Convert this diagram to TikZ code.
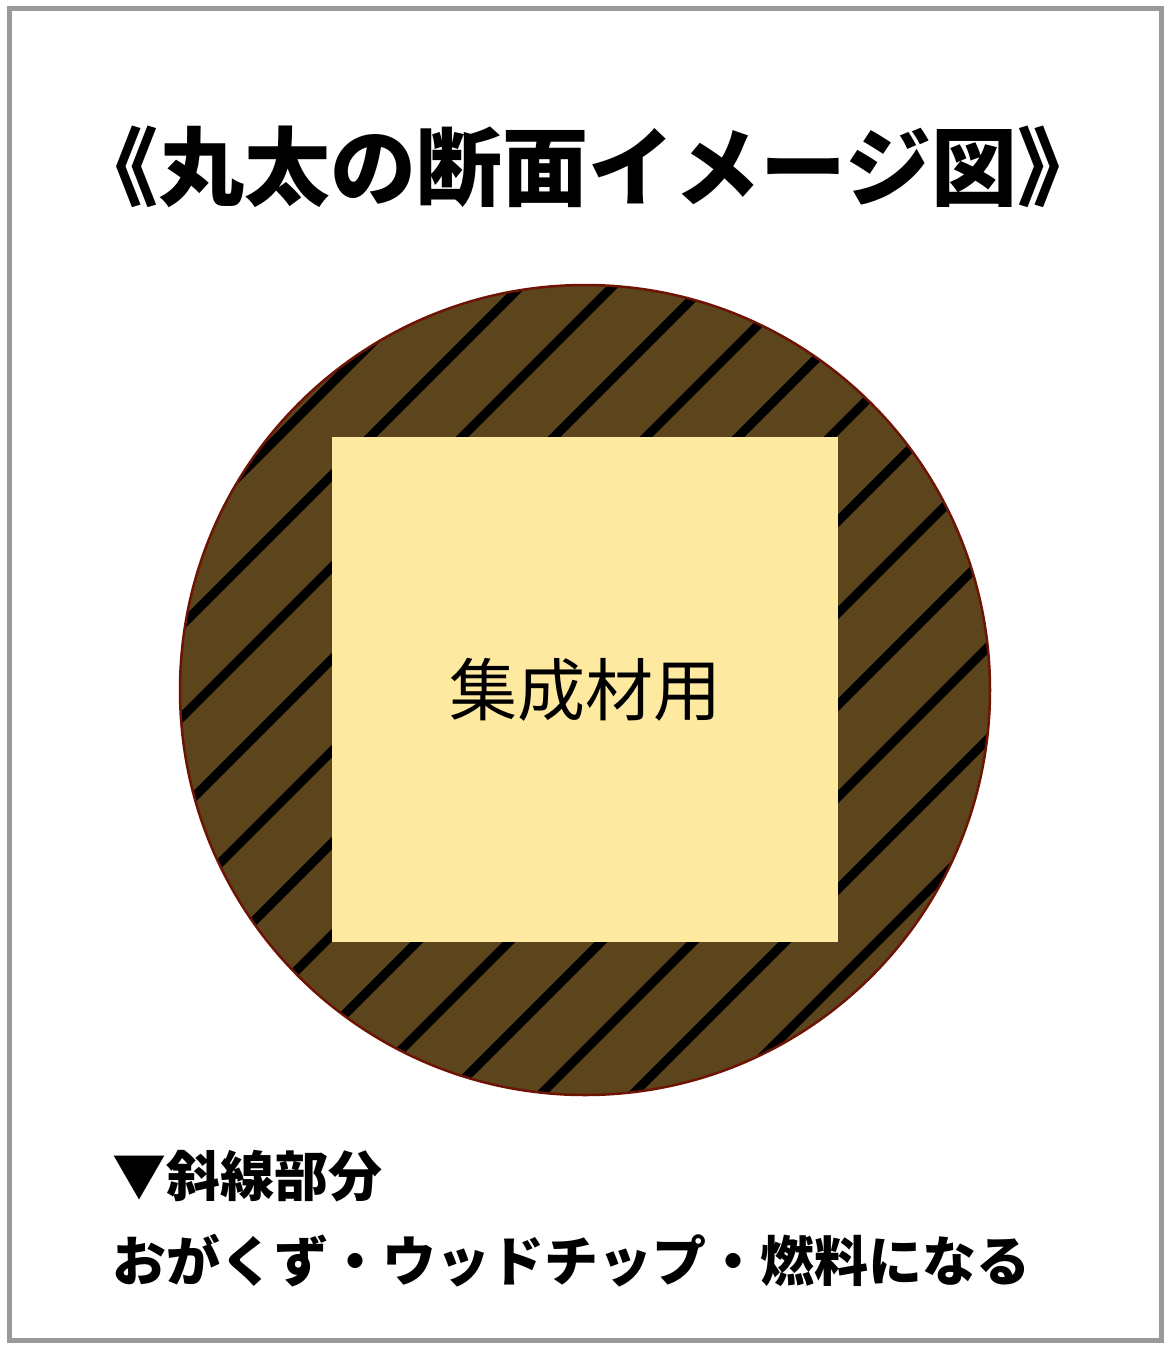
\documentclass[tikz,border=0pt]{standalone}
\usepackage{fontspec}
\newfontfamily\jp{Noto Sans CJK JP}
\usepackage{tikz}

\definecolor{bark}{RGB}{92,68,28}
\definecolor{barkline}{RGB}{110,20,5}
\definecolor{heart}{RGB}{254,233,161}
\definecolor{frame}{RGB}{154,154,154}

\begin{document}
\begin{tikzpicture}[x=1pt,y=-1pt]
        \tikzstyle{every node}=[inner sep=0pt,text=black]
        \tikzstyle{hatch}=[black,line width=9pt]
        \tikzstyle{big}=[font=\jp\bfseries\fontsize{86}{90}\selectfont,anchor=base]
        \tikzstyle{note}=[font=\jp\bfseries\fontsize{54}{58}\selectfont,anchor=base west]
        \useasboundingbox (0,0) rectangle (1172,1350);
        \fill[white] (0,0) rectangle (1172,1350);
        \draw[frame,line width=5pt] (9,8) rectangle (1161,1340);
        % log cross section
        \coordinate (c) at (585,690);
        \fill[bark] (c) circle[radius=405pt];
        \begin{scope}
            \clip (c) circle[radius=405pt];
            \foreach \k [evaluate=\k as \s using 1267+92*\k] in {-6,...,6}
                \draw[hatch] (\s-1100,1100) -- (\s-100,100);
        \end{scope}
        \draw[barkline,line width=2.5pt] (c) circle[radius=405pt];
        \fill[heart] (332,437) rectangle (838,942);
        \node[font=\jp\fontsize{68}{72}\selectfont] (core) at (585,690) {集成材用};
        % texts
        \node[big]  (title) at (588,199)  {《丸太の断面イメージ図》};
        \node[note] (note1) at (112,1196) {▼斜線部分};
        \node[note] (note2) at (112,1281) {おがくず・ウッドチップ・燃料になる};
    \end{tikzpicture}
\end{document}
